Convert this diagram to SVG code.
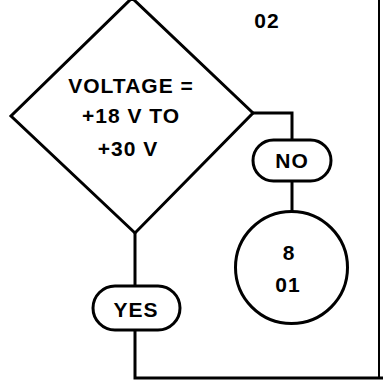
<svg xmlns="http://www.w3.org/2000/svg" width="383" height="381" viewBox="0 0 383 381">
<style>
.s{fill:#fff;stroke:#000;stroke-width:3;stroke-linejoin:miter}
.c{fill:none;stroke:#000;stroke-width:3}
.t{font-family:"Liberation Sans",Arial,sans-serif;font-weight:bold;font-size:21px;letter-spacing:1px;fill:#000;text-anchor:middle}
</style>
<rect width="383" height="381" fill="#fff"/>
<g id="connectors">
<polyline class="c" points="253,113 292,113 292,140"/>
<line class="c" x1="292" y1="181" x2="292" y2="212"/>
<line class="c" x1="135" y1="233" x2="135" y2="286"/>
<polyline class="c" points="135,330 135,378 383,378"/>
<line x1="379" y1="0" x2="379" y2="378" stroke="#000" stroke-width="2"/>
</g>
<g id="decision">
<polygon class="s" points="132,-2 253,113 135,233 11,116"/>
<text class="t" x="131" y="93">VOLTAGE =</text>
<text class="t" x="131" y="123">+18 V TO</text>
<text class="t" x="128" y="156">+30 V</text>
</g>
<g id="label02">
<text class="t" x="267" y="28" letter-spacing="2">02</text>
</g>
<g id="no">
<rect class="s" x="253" y="140" width="78" height="41" rx="20.5"/>
<text class="t" x="292" y="168" font-size="20">NO</text>
</g>
<g id="ref">
<circle class="s" cx="291.5" cy="267.5" r="56"/>
<text class="t" x="289" y="260">8</text>
<text class="t" x="288" y="292">01</text>
</g>
<g id="yes">
<rect class="s" x="93" y="286" width="87" height="44" rx="22"/>
<text class="t" x="136" y="317">YES</text>
</g>
</svg>
